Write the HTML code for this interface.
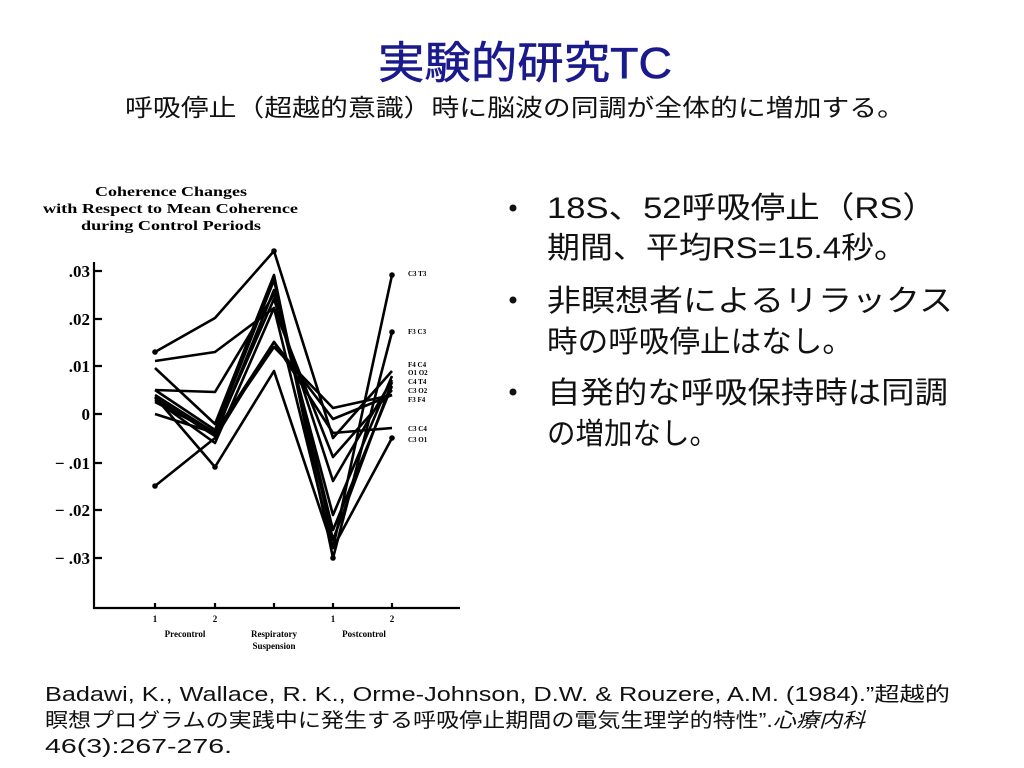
<!DOCTYPE html>
<html><head><meta charset="utf-8">
<style>
html,body{margin:0;padding:0;background:#fff;}
svg{display:block;}
.jp{font-family:"Liberation Sans","Noto Sans CJK JP",sans-serif;}
.sr{font-family:"Liberation Serif","DejaVu Serif",serif;font-weight:bold;}
</style></head><body>
<svg width="1024" height="768" viewBox="0 0 1024 768" xmlns="http://www.w3.org/2000/svg">
<rect width="1024" height="768" fill="#fff"/>
<text class="jp" x="378" y="78" font-size="44" fill="#1a1a8c" stroke="#1a1a8c" stroke-width="0.6" textLength="294" lengthAdjust="spacingAndGlyphs">実験的研究TC</text>
<text class="jp" x="125" y="116" font-size="24" fill="#111" textLength="780" lengthAdjust="spacingAndGlyphs">呼吸停止（超越的意識）時に脳波の同調が全体的に増加する。</text>

<g class="jp" font-size="30" fill="#111">
<circle cx="513" cy="208" r="3.5"/>
<circle cx="513" cy="300" r="3.5"/>
<circle cx="513" cy="392" r="3.5"/>
<text x="547" y="218" textLength="390" lengthAdjust="spacingAndGlyphs">18S、52呼吸停止（RS）</text>
<text x="547" y="258" textLength="360" lengthAdjust="spacingAndGlyphs">期間、平均RS=15.4秒。</text>
<text x="547" y="311" textLength="406" lengthAdjust="spacingAndGlyphs">非瞑想者によるリラックス</text>
<text x="547" y="352" textLength="306" lengthAdjust="spacingAndGlyphs">時の呼吸停止はなし。</text>
<text x="547" y="403" textLength="401" lengthAdjust="spacingAndGlyphs">自発的な呼吸保持時は同調</text>
<text x="547" y="444" textLength="171" lengthAdjust="spacingAndGlyphs">の増加なし。</text>
</g>

<g class="jp" font-size="20" fill="#111">
<text x="45" y="701" textLength="905" lengthAdjust="spacingAndGlyphs">Badawi, K., Wallace, R. K., Orme-Johnson, D.W. &amp; Rouzere, A.M. (1984).”超越的</text>
<text x="45" y="727" textLength="820" lengthAdjust="spacingAndGlyphs">瞑想プログラムの実践中に発生する呼吸停止期間の電気生理学的特性”.<tspan font-style="italic">心療内科</tspan></text>
<text x="45" y="753" textLength="187" lengthAdjust="spacingAndGlyphs">46(3):267-276.</text>
</g>

<!-- chart -->
<g class="sr" fill="#000">
<text x="95" y="196" font-size="14" textLength="152" lengthAdjust="spacingAndGlyphs">Coherence Changes</text>
<text x="43" y="213" font-size="14" textLength="255" lengthAdjust="spacingAndGlyphs">with Respect to Mean Coherence</text>
<text x="81" y="230" font-size="14" textLength="180" lengthAdjust="spacingAndGlyphs">during Control Periods</text>
<g font-size="17" text-anchor="end">
<text x="90" y="277">.03</text>
<text x="90" y="325">.02</text>
<text x="90" y="372">.01</text>
<text x="90" y="420">0</text>
<text x="90" y="469">− .01</text>
<text x="90" y="516">− .02</text>
<text x="90" y="564">− .03</text>
</g>
<g font-size="9" text-anchor="middle">
<text x="155" y="622">1</text><text x="215" y="622">2</text>
<text x="333" y="622">1</text><text x="392" y="622">2</text>
<text x="185" y="637">Precontrol</text>
<text x="274" y="637">Respiratory</text>
<text x="274" y="649">Suspension</text>
<text x="364" y="637">Postcontrol</text>
</g>
<g font-size="7">
<text x="408" y="276">C3  T3</text>
<text x="408" y="334">F3  C3</text>
<text x="408" y="367">F4  C4</text>
<text x="408" y="375">O1  O2</text>
<text x="408" y="384">C4  T4</text>
<text x="408" y="393">C3  O2</text>
<text x="408" y="402">F3  F4</text>
<text x="408" y="431">C3  C4</text>
<text x="408" y="442">C3  O1</text>
</g>
</g>
<g stroke="#000" stroke-width="2.2" fill="none">
<path d="M94 262 V608 H460"/>
<path d="M94 271H102M94 319H102M94 366H102M94 414H102M94 463H102M94 510H102M94 558H102"/>
<path d="M155 608v-5M215 608v-5M274 608v-5M333 608v-5M392 608v-5"/>
</g>
<g stroke="#000" stroke-width="2.6" fill="none" stroke-linejoin="round">
<polyline points="155,352 215,318 274,251 333,438 392,371"/>
<polyline points="155,361 215,352 274,308 333,548 392,275"/>
<polyline points="155,368 215,424 274,275 333,558 392,332"/>
<polyline points="155,390 215,392 274,294 333,515 392,376"/>
<polyline points="155,395 215,433 274,299 333,481 392,380"/>
<polyline points="155,400 215,443 274,308 333,457 392,390"/>
<polyline points="155,402 215,433 274,342 333,419 392,395"/>
<polyline points="155,414 215,433 274,347 333,408 392,395"/>
<polyline points="155,486 215,438 274,342 333,433 392,428"/>
<polyline points="155,397 215,467 274,371 333,548 392,438"/>
<polyline points="155,390 215,430 274,280 333,540 392,382"/>
<polyline points="155,398 215,436 274,290 333,530 392,386"/>
</g>
<g fill="#000">
<circle cx="274" cy="251" r="2.8"/><circle cx="392" cy="275" r="2.8"/><circle cx="392" cy="332" r="2.8"/>
<circle cx="155" cy="352" r="2.8"/><circle cx="155" cy="486" r="2.8"/><circle cx="215" cy="467" r="2.8"/>
<circle cx="333" cy="558" r="2.8"/><circle cx="392" cy="438" r="2.8"/>
</g>
</svg>
</body></html>
